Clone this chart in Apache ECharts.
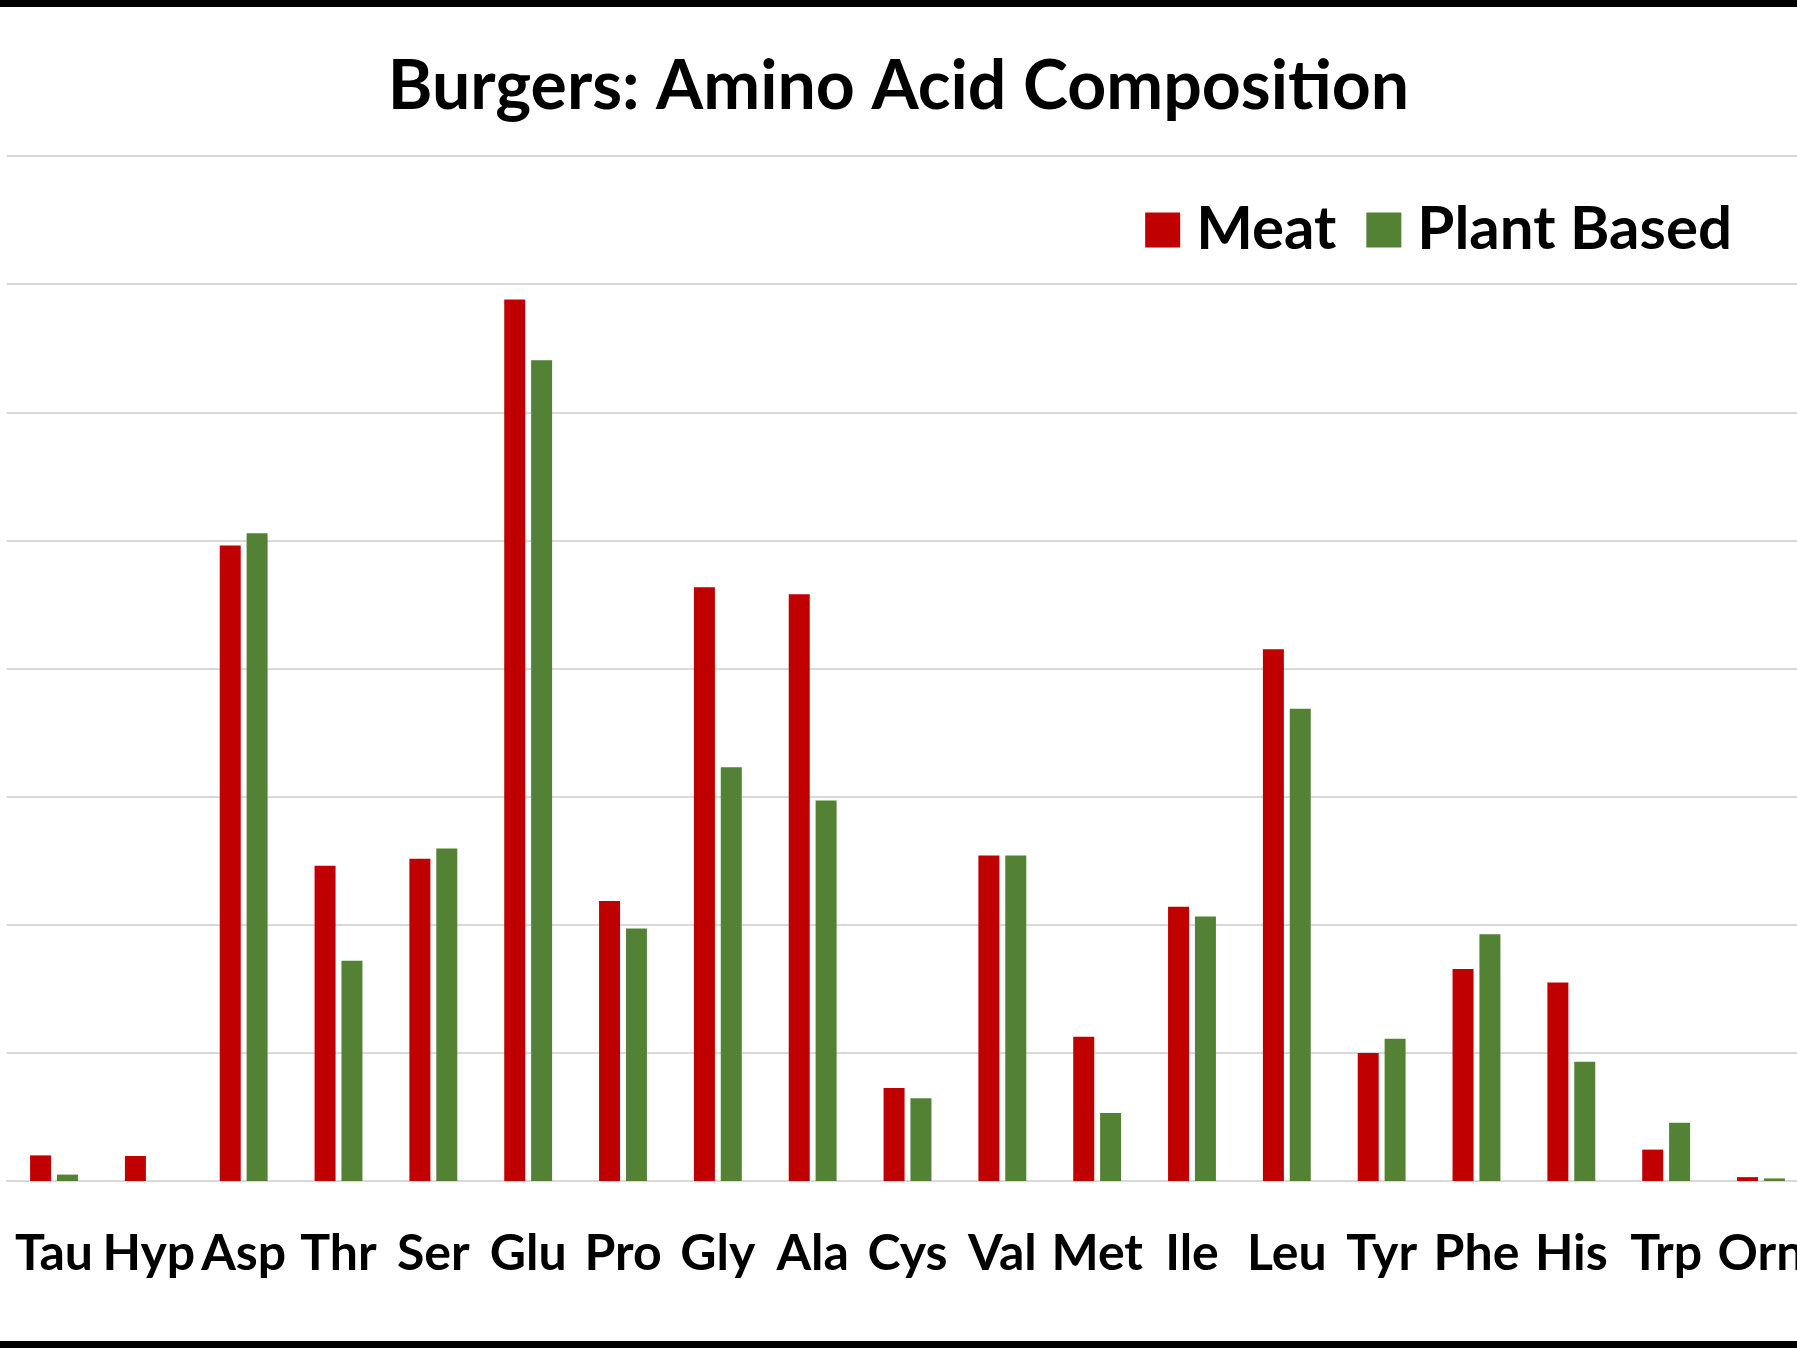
<!DOCTYPE html>
<html lang="en">

<head>
    <meta charset="UTF-8">
    <script src="https://cdn.jsdelivr.net/npm/echarts@6/dist/echarts.min.js"></script>
    <title>Burgers: Amino Acid Composition</title>
    <style>
        html, body {
            margin: 0;
            padding: 0;
            background: #fff;
        }
        #main {
            width: 1797px;
            height: 1348px;
        }
    </style>
</head>

<body>
    <div id="main"></div>

    <script>
        // amino acids along the x axis
        var aminoAcids = ['Tau', 'Hyp', 'Asp', 'Thr', 'Ser', 'Glu', 'Pro', 'Gly', 'Ala', 'Cys',
            'Val', 'Met', 'Ile', 'Leu', 'Tyr', 'Phe', 'His', 'Trp', 'Orn'];

        // values (one gridline = 2 units)
        var meat = [0.40, 0.39, 9.92, 4.92, 5.03, 13.76, 4.37, 9.27, 9.16, 1.45,
            5.08, 2.25, 4.28, 8.30, 2.00, 3.31, 3.10, 0.49, 0.06];
        var plantBased = [0.10, 0, 10.11, 3.44, 5.19, 12.81, 3.94, 6.46, 5.94, 1.29,
            5.08, 1.06, 4.13, 7.37, 2.22, 3.85, 1.86, 0.91, 0.04];

        var fontName = 'Lato';
        var myChart = echarts.init(document.getElementById('main'));

        var option = {
            backgroundColor: '#ffffff',
            animation: false,
            title: {
                text: 'Burgers: Amino Acid Composition',
                left: 'center',
                top: 48,
                textStyle: {
                    fontFamily: fontName,
                    fontWeight: 'bold',
                    fontSize: 68,
                    color: '#000'
                }
            },
            legend: {
                right: 60,
                top: 195,
                itemWidth: 35,
                itemHeight: 35,
                itemGap: 30,
                icon: 'rect',
                textStyle: {
                    fontFamily: fontName,
                    fontWeight: 'bold',
                    fontSize: 60,
                    color: '#000',
                    padding: [0, 0, 0, 11]
                },
                data: ['Meat', 'Plant Based']
            },
            // the plot runs a little past the right edge, so Orn is cut off
            grid: {
                left: 6.6,
                width: 1801.8,
                top: 156,
                bottom: 167,
                containLabel: false,
                outerBoundsMode: 'none'
            },
            xAxis: {
                type: 'category',
                data: aminoAcids,
                axisTick: { show: false },
                axisLine: {
                    lineStyle: { color: '#d9d9d9', width: 2 }
                },
                axisLabel: {
                    margin: 48,
                    interval: 0,
                    fontFamily: fontName,
                    fontWeight: 'bold',
                    fontSize: 50,
                    color: '#000'
                }
            },
            yAxis: {
                type: 'value',
                min: 0,
                max: 16,
                interval: 2,
                axisLabel: { show: false },
                axisLine: { show: false },
                axisTick: { show: false },
                splitLine: {
                    lineStyle: { color: '#d9d9d9', width: 2 }
                }
            },
            series: [{
                    name: 'Meat',
                    type: 'bar',
                    barWidth: 21,
                    barGap: '28%',
                    itemStyle: { color: '#c00000' },
                    data: meat
                },
                {
                    name: 'Plant Based',
                    type: 'bar',
                    barWidth: 21,
                    itemStyle: { color: '#548235' },
                    data: plantBased
                }
            ],
            // black bands along the top and bottom edges
            graphic: [{
                    type: 'rect',
                    shape: { x: 0, y: 0, width: 1797, height: 7 },
                    style: { fill: '#000' }
                },
                {
                    type: 'rect',
                    shape: { x: 0, y: 1341, width: 1797, height: 7 },
                    style: { fill: '#000' }
                }
            ]
        };

        myChart.setOption(option);
    </script>
</body>

</html>
